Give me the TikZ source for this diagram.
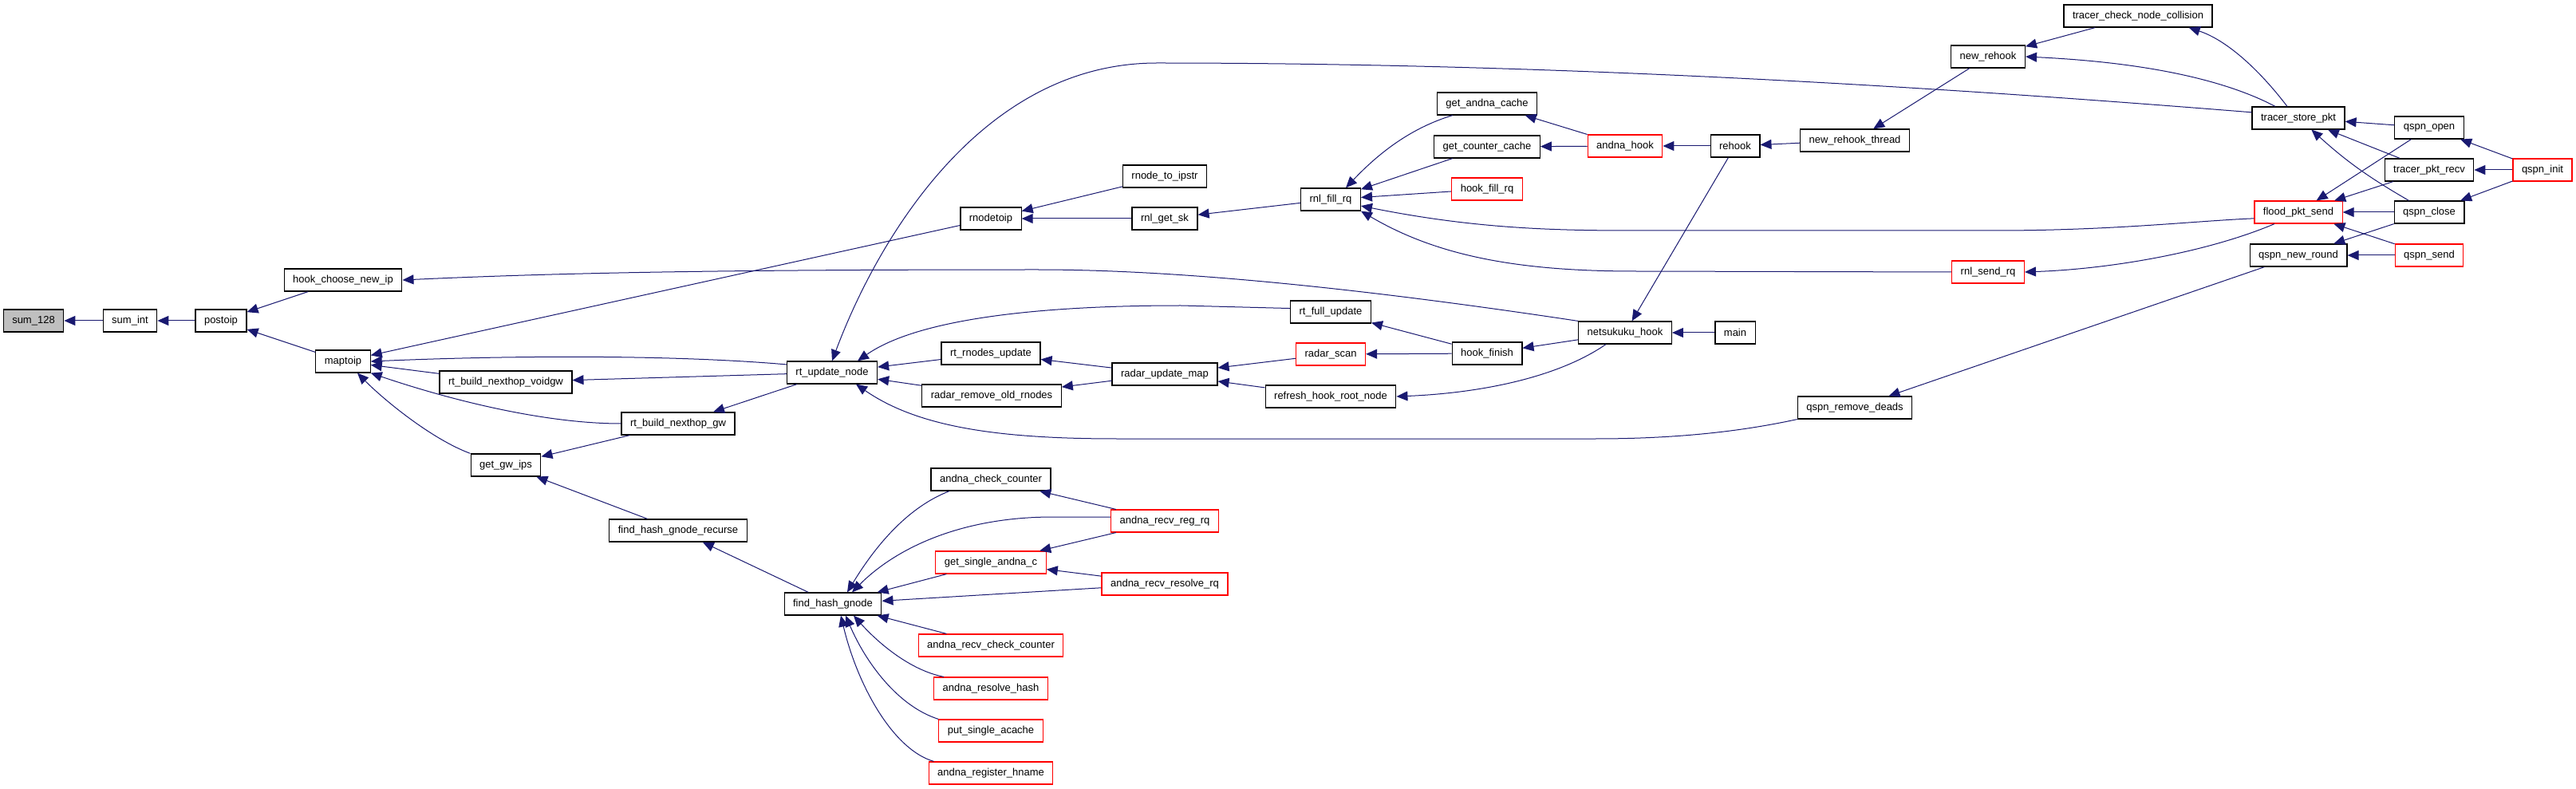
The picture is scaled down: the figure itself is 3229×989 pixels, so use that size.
\documentclass[tikz,border=0pt]{standalone}
\usepackage{fontspec}
\setmainfont{Liberation Sans}
\usetikzlibrary{arrows.meta}
\definecolor{edgeblue}{HTML}{191970}
\definecolor{hotred}{HTML}{FF0000}
\definecolor{rootgray}{HTML}{BFBFBF}
\begin{document}
\begin{tikzpicture}[x=0.5pt,y=-0.5pt,
  fn/.style={draw=black,line width=0.6pt,fill=white,font=\fontsize{6.5}{7}\selectfont,
    inner xsep=5.5pt,inner ysep=0pt,minimum height=14pt},
  hot/.style={fn,draw=hotred},
  call/.style={draw=edgeblue,line width=0.5pt,arrows={Triangle[length=7pt,width=6pt]-}}]
  \useasboundingbox (0,0) rectangle (3229,989);

  % functions, by column
  \node[fn,fill=rootgray] (sum128) at (42,402) {sum\_128};
  \node[fn] (sumint) at (163,402) {sum\_int};
  \node[fn] (postoip) at (277,402) {postoip};
  \node[fn] (hookchoose) at (430,351) {hook\_choose\_new\_ip};
  \node[fn] (maptoip) at (430,453) {maptoip};
  \node[fn] (voidgw) at (634,479) {rt\_build\_nexthop\_voidgw};
  \node[fn] (getgwips) at (634,583) {get\_gw\_ips};
  \node[fn] (nexthopgw) at (850,531) {rt\_build\_nexthop\_gw};
  \node[fn] (recurse) at (850,665) {find\_hash\_gnode\_recurse};
  \node[fn] (rtupdate) at (1043,467) {rt\_update\_node};
  \node[fn] (findhash) at (1044,757) {find\_hash\_gnode};
  \node[fn] (rnodetoip) at (1242,274) {rnodetoip};
  \node[fn] (rtrnodes) at (1242,443) {rt\_rnodes\_update};
  \node[fn] (radarremove) at (1243,496) {radar\_remove\_old\_rnodes};
  \node[fn] (andnacheck) at (1242,601) {andna\_check\_counter};
  \node[hot] (getsingle) at (1242,705) {get\_single\_andna\_c};
  \node[hot] (recvcheck) at (1242,809) {andna\_recv\_check\_counter};
  \node[hot] (resolvehash) at (1242,863) {andna\_resolve\_hash};
  \node[hot] (putsingle) at (1242,916) {put\_single\_acache};
  \node[hot] (register) at (1242,969) {andna\_register\_hname};
  \node[fn] (ipstr) at (1460,221) {rnode\_to\_ipstr};
  \node[fn] (getsk) at (1460,274) {rnl\_get\_sk};
  \node[fn] (radarupdate) at (1460,469) {radar\_update\_map};
  \node[hot] (recvreg) at (1460,653) {andna\_recv\_reg\_rq};
  \node[hot] (recvresolve) at (1460,732) {andna\_recv\_resolve\_rq};
  \node[fn] (fillrq) at (1668,250) {rnl\_fill\_rq};
  \node[fn] (fullupdate) at (1668,391) {rt\_full\_update};
  \node[hot] (radarscan) at (1668,444) {radar\_scan};
  \node[fn] (refresh) at (1668,497) {refresh\_hook\_root\_node};
  \node[fn] (andnacache) at (1864,130) {get\_andna\_cache};
  \node[fn] (countercache) at (1864,184) {get\_counter\_cache};
  \node[hot] (hookfill) at (1864,237) {hook\_fill\_rq};
  \node[fn] (hookfinish) at (1864,443) {hook\_finish};
  \node[hot] (andnahook) at (2037,183) {andna\_hook};
  \node[fn] (netsukuku) at (2037,417) {netsukuku\_hook};
  \node[fn] (rehook) at (2175,183) {rehook};
  \node[fn] (main) at (2175,417) {main};
  \node[fn] (rehookthread) at (2325,176) {new\_rehook\_thread};
  \node[fn] (removedeads) at (2325,511) {qspn\_remove\_deads};
  \node[fn] (newrehook) at (2492,71) {new\_rehook};
  \node[hot] (sendrq) at (2492,341) {rnl\_send\_rq};
  \node[fn] (collision) at (2680,20) {tracer\_check\_node\_collision};
  \node[fn] (storepkt) at (2881,148) {tracer\_store\_pkt};
  \node[hot] (floodsend) at (2881,266) {flood\_pkt\_send};
  \node[fn] (newround) at (2881,320) {qspn\_new\_round};
  \node[fn] (qspnopen) at (3045,160) {qspn\_open};
  \node[fn] (pktrecv) at (3045,213) {tracer\_pkt\_recv};
  \node[fn] (qspnclose) at (3045,266) {qspn\_close};
  \node[hot] (qspnsend) at (3045,320) {qspn\_send};
  \node[hot] (qspninit) at (3187,213) {qspn\_init};

  % calls, arrow at the callee
  \draw[call] (sum128) -- (sumint);
  \draw[call] (sumint) -- (postoip);
  \draw[call] (postoip) -- (hookchoose);
  \draw[call] (postoip) -- (maptoip);
  \draw[call] (hookchoose.east) .. controls (700,342) and (900,338) .. (1300,338)
    .. controls (1500,338) and (1750,368) .. (netsukuku.north west);
  \draw[call] (maptoip) -- (rnodetoip);
  \draw[call] (maptoip.east) .. controls (650,445) and (850,445) .. (rtupdate.170);
  \draw[call] (maptoip) -- (voidgw);
  \draw[call] (maptoip.south east) .. controls (560,500) and (680,531) .. (nexthopgw.west);
  \draw[call] ([xshift=9pt]maptoip.south) .. controls (480,500) and (540,550) .. (getgwips.north west);
  \draw[call] (voidgw) -- (rtupdate);
  \draw[call] (nexthopgw) -- (rtupdate);
  \draw[call] (getgwips) -- (nexthopgw);
  \draw[call] (getgwips) -- (recurse);
  \draw[call] (recurse) -- (findhash);

  \draw[call] (rtupdate.north) .. controls (1100,300) and (1230,79) .. (1450,79)
    .. controls (2000,79) and (2500,115) .. (storepkt.173);
  \draw[call] ([xshift=16pt]rtupdate.north) .. controls (1150,400) and (1300,383) .. (1480,383) -- (fullupdate.175);
  \draw[call] (rtupdate) -- (rtrnodes);
  \draw[call] (rtupdate) -- (radarremove);
  \draw[call] ([xshift=15pt]rtupdate.south) .. controls (1150,535) and (1250,550) .. (1400,550) -- (2000,550)
    .. controls (2120,550) and (2200,537) .. (removedeads.south west);

  \draw[call] (rnodetoip) -- (ipstr);
  \draw[call] (rnodetoip) -- (getsk);
  \draw[call] (getsk) -- (fillrq);
  \draw[call] ([xshift=9.5pt]fillrq.north) .. controls (1730,190) and (1770,160) .. ([xshift=10pt]andnacache.south west);
  \draw[call] (fillrq) -- (countercache);
  \draw[call] (fillrq) -- (hookfill);
  \draw[call] (fillrq.-12) .. controls (1850,287) and (1950,289) .. (2050,289) -- (2500,289)
    .. controls (2650,289) and (2750,277) .. (floodsend.188);
  \draw[call] (fillrq.south east) .. controls (1800,320) and (1900,340) .. (2050,340) -- (sendrq.west);

  \draw[call] (andnacache) -- (andnahook);
  \draw[call] (countercache) -- (andnahook);
  \draw[call] (andnahook) -- (rehook);
  \draw[call] (rehook) -- (rehookthread);
  \draw[call] (rehookthread) -- (newrehook);
  \draw[call] (newrehook) -- (collision);
  \draw[call] (newrehook.east) .. controls (2620,75) and (2760,85) .. ([xshift=-14.5pt]storepkt.north);
  \draw[call] ([xshift=-15pt]collision.south east) .. controls (2790,50) and (2830,85) .. ([xshift=-7pt]storepkt.north);
  \draw[call] (netsukuku) -- (rehook);
  \draw[call] (netsukuku) -- (main);
  \draw[call] (hookfinish) -- (netsukuku);
  \draw[call] (refresh.east) .. controls (1850,493) and (1950,475) .. ([xshift=-12pt]netsukuku.south);
  \draw[call] (fullupdate) -- (hookfinish);
  \draw[call] (radarscan) -- (hookfinish);
  \draw[call] (radarupdate) -- (radarscan);
  \draw[call] (radarupdate) -- (refresh);
  \draw[call] (rtrnodes) -- (radarupdate);
  \draw[call] (radarremove) -- (radarupdate);

  \draw[call] (storepkt) -- (qspnopen);
  \draw[call] (storepkt) -- (pktrecv);
  \draw[call] (storepkt) to[bend right=6] (qspnclose);
  \draw[call] (floodsend) -- (qspnopen);
  \draw[call] (floodsend) -- (pktrecv);
  \draw[call] (floodsend) -- (qspnclose);
  \draw[call] (floodsend) -- (qspnsend);
  \draw[call] (sendrq.east) .. controls (2650,337) and (2770,315) .. ([xshift=-15pt]floodsend.south);
  \draw[call] (newround) -- (qspnclose);
  \draw[call] (newround) -- (qspnsend);
  \draw[call] (removedeads) -- (newround);
  \draw[call] (qspnopen) -- (qspninit);
  \draw[call] (pktrecv) -- (qspninit);
  \draw[call] (qspnclose) -- (qspninit);

  \draw[call] ([xshift=9pt]findhash.north) .. controls (1100,680) and (1140,635) .. ([xshift=-26pt]andnacheck.south);
  \draw[call] ([xshift=12pt]findhash.north) .. controls (1120,690) and (1200,648) .. (1320,648) -- (recvreg.176);
  \draw[call] (findhash) -- (getsingle);
  \draw[call] (findhash) -- (recvresolve);
  \draw[call] (findhash) -- (recvcheck);
  \draw[call] ([xshift=13pt]findhash.south) .. controls (1100,805) and (1140,840) .. ([xshift=-29.5pt]resolvehash.north);
  \draw[call] ([xshift=8pt]findhash.south) .. controls (1085,830) and (1125,885) .. (putsingle.north west);
  \draw[call] ([xshift=5pt]findhash.south) .. controls (1075,860) and (1120,940) .. ([xshift=3.5pt]register.north west);
  \draw[call] (andnacheck) -- (recvreg);
  \draw[call] (getsingle) -- (recvreg);
  \draw[call] (getsingle) -- (recvresolve);
\end{tikzpicture}
\end{document}
